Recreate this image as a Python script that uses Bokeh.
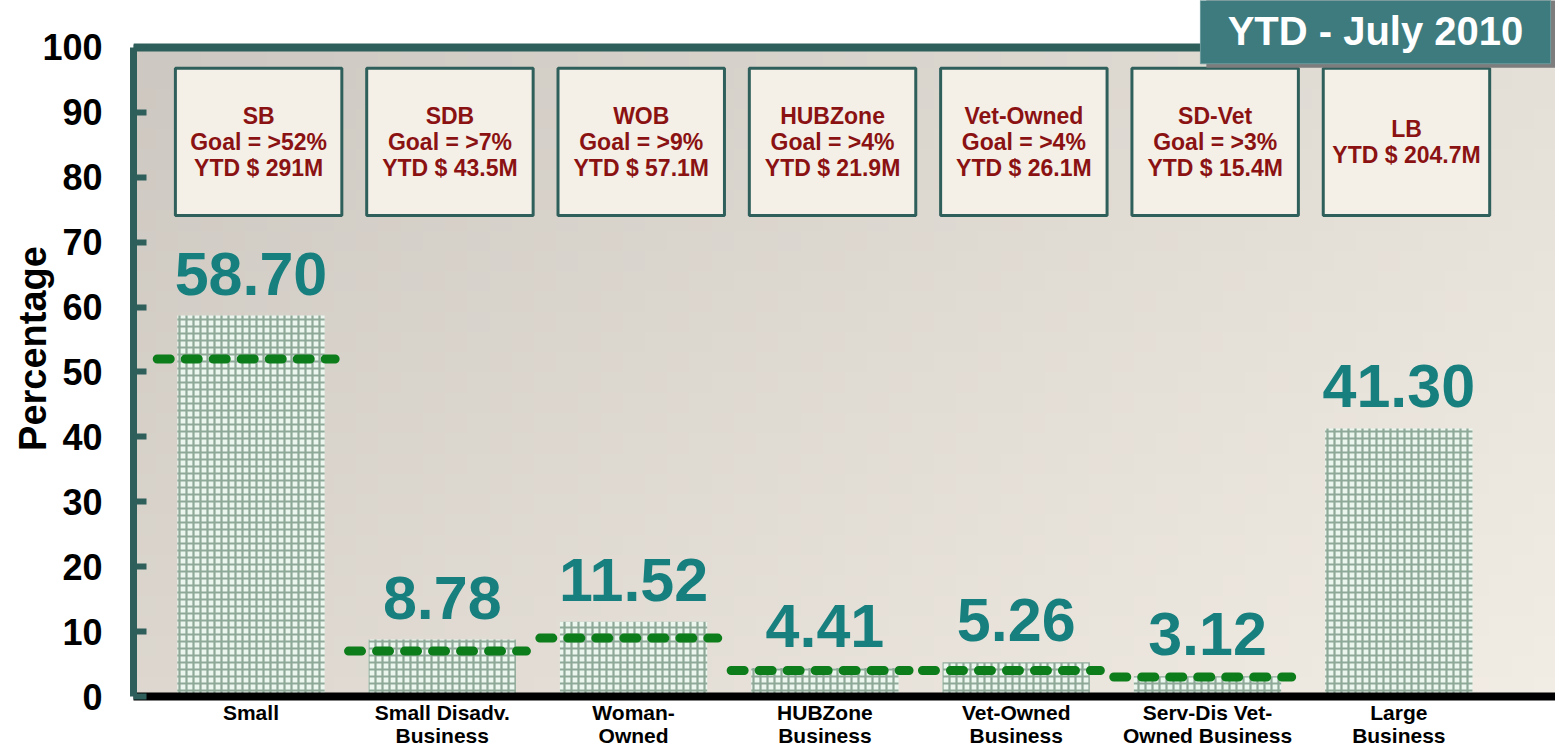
import numpy as np
from bokeh.core.properties import value
from bokeh.embed import file_html
from bokeh.models import ColumnDataSource, FixedTicker, LabelSet, Range1d, Span
from bokeh.plotting import figure
from bokeh.resources import INLINE

# ---------------- data ----------------
categories = ["Small", "Small Disadv.\nBusiness", "Woman-\nOwned", "HUBZone\nBusiness",
              "Vet-Owned\nBusiness", "Serv-Dis Vet-\nOwned Business", "Large\nBusiness"]
percent = [58.70, 8.78, 11.52, 4.41, 5.26, 3.12, 41.30]
goals = [52, 7, 9, 4, 4, 3, None]
box_titles = ["SB", "SDB", "WOB", "HUBZone", "Vet-Owned", "SD-Vet", "LB"]
box_goals = ["Goal = >52%", "Goal = >7%", "Goal = >9%", "Goal = >4%", "Goal = >4%", "Goal = >3%", None]
box_ytd = ["YTD $ 291M", "YTD $ 43.5M", "YTD $ 57.1M", "YTD $ 21.9M",
           "YTD $ 26.1M", "YTD $ 15.4M", "YTD $ 204.7M"]
y_ticks = list(range(0, 101, 10))
title_text = "YTD - July 2010"
y_label = "Percentage"

# ---------------- styles ----------------
FONT = "Liberation Sans"
TEAL_DARK = "#2f5f5b"
VALUE_COLOR = "#17807f"
BOX_TEXT = "#8b1212"
GOAL_GREEN = "#0c7d1a"

FRAME_W, FRAME_H = 1422, 696
X0, X1 = -0.614, 6.819
Y0, Y1 = 0, 107.24

idx = list(range(len(categories)))

p = figure(frame_width=FRAME_W, frame_height=FRAME_H, x_range=Range1d(X0, X1), y_range=Range1d(Y0, Y1),
           output_backend="svg", toolbar_location=None, title=None,
           min_border_left=133, min_border_right=0, min_border_top=0, min_border_bottom=0)
p.outline_line_color = None
p.background_fill_color = "white"
p.border_fill_color = "white"
p.grid.visible = False

# background gradient of the plot panel (0..100)
nx, ny = 64, 32
tl = np.array([205, 200, 193.0]); tr = np.array([228, 223, 215.0])
bl = np.array([221, 215, 207.0]); br = np.array([242, 237, 228.0])
u = np.linspace(0, 1, nx)[None, :, None]
v = np.linspace(0, 1, ny)[:, None, None]  # 0 = bottom row
col = (bl * (1 - u) + br * u) * (1 - v) + (tl * (1 - u) + tr * u) * v
rgba = np.empty((ny, nx), dtype=np.uint32)
view = rgba.view(dtype=np.uint8).reshape((ny, nx, 4))
view[:, :, :3] = col.astype(np.uint8)
view[:, :, 3] = 255
p.image_rgba(image=[rgba], x=X0, y=0, dw=X1 - X0, dh=100, level="image")

# top border of panel
p.add_layout(Span(location=100, dimension="width", line_color=TEAL_DARK, line_width=8, level="underlay"))

# bars (checker-like texture)
p.vbar(x=idx, top=percent, bottom=0, width=0.77, fill_color="#eaf6ee", line_color=None,
       hatch_pattern="cross", hatch_color="#8fa998", hatch_scale=7, hatch_weight=2.2)

# goal lines
gx0 = [i - 0.49 for i, g in zip(idx, goals) if g is not None]
gx1 = [i + 0.44 for i, g in zip(idx, goals) if g is not None]
gy = [g for g in goals if g is not None]
p.segment(x0=gx0, x1=gx1, y0=gy, y1=gy, line_color=GOAL_GREEN, line_width=9,
          line_dash="13 15", line_cap="round")

# value labels
vsrc = ColumnDataSource(dict(x=idx, y=percent, t=["%.2f" % v_ for v_ in percent]))
p.add_layout(LabelSet(x="x", y="y", text="t", source=vsrc, text_font=value(FONT),
                      text_font_style="bold", text_font_size="61px", text_color=VALUE_COLOR,
                      text_align="center", text_baseline="alphabetic", y_offset=21))

# goal boxes
bx = [i + 0.04 for i in idx]
p.quad(left=[b - 0.435 for b in bx], right=[b + 0.435 for b in bx],
       bottom=[74.1] * len(bx), top=[96.8] * len(bx),
       fill_color="#f4f0e8", line_color=TEAL_DARK, line_width=3)
box_text = ["\n".join([t for t in (a, b, c) if t]) for a, b, c in zip(box_titles, box_goals, box_ytd)]
p.text(x=bx, y=[85.5] * len(bx), text=box_text, text_font=value(FONT), text_font_style="bold",
       text_font_size="23px", text_color=BOX_TEXT, text_align="center", text_baseline="middle",
       text_line_height=1.0)

# title box (shadow + box + text)
p.quad(left=[4.963 + 0.031], right=[6.793 + 0.031], bottom=[97.5 - 0.62], top=[108],
       fill_color="#7d7d7d", line_color=None)
p.quad(left=[4.963], right=[6.793], bottom=[97.5], top=[108],
       fill_color="#3d7b7e", line_color="#6a9a9c", line_width=1)
p.text(x=[5.878], y=[102.5], text=[title_text], text_font=value(FONT), text_font_style="bold",
       text_font_size="40px", text_color="white", text_align="center", text_baseline="middle")

# y axis
ya = p.yaxis[0]
ya.ticker = FixedTicker(ticks=y_ticks)
ya.bounds = (0, 100)
ya.axis_line_color = TEAL_DARK
ya.axis_line_width = 7
ya.major_tick_in = 13
ya.major_tick_out = 0
ya.major_tick_line_color = TEAL_DARK
ya.major_tick_line_width = 6
ya.minor_tick_line_color = None
ya.major_label_text_font = FONT
ya.major_label_text_font_style = "bold"
ya.major_label_text_font_size = "36px"
ya.major_label_text_color = "black"
ya.major_label_standoff = 31
ya.axis_label = y_label
ya.axis_label_text_font = FONT
ya.axis_label_text_font_style = "bold"
ya.axis_label_text_font_size = "38px"
ya.axis_label_text_color = "black"
ya.axis_label_standoff = -15

# x axis
xa = p.xaxis[0]
xa.ticker = FixedTicker(ticks=idx)
xa.major_label_overrides = {i: c for i, c in zip(idx, categories)}
xa.axis_line_color = "black"
xa.axis_line_width = 8
xa.major_tick_line_color = None
xa.major_tick_out = 0
xa.major_tick_in = 0
xa.minor_tick_line_color = None
xa.major_label_text_font = FONT
xa.major_label_text_font_style = "bold"
xa.major_label_text_font_size = "21px"
xa.major_label_text_color = "black"
xa.major_label_text_line_height = 1.0
xa.major_label_standoff = 4

open("out.html", "w").write(file_html(p, INLINE))
